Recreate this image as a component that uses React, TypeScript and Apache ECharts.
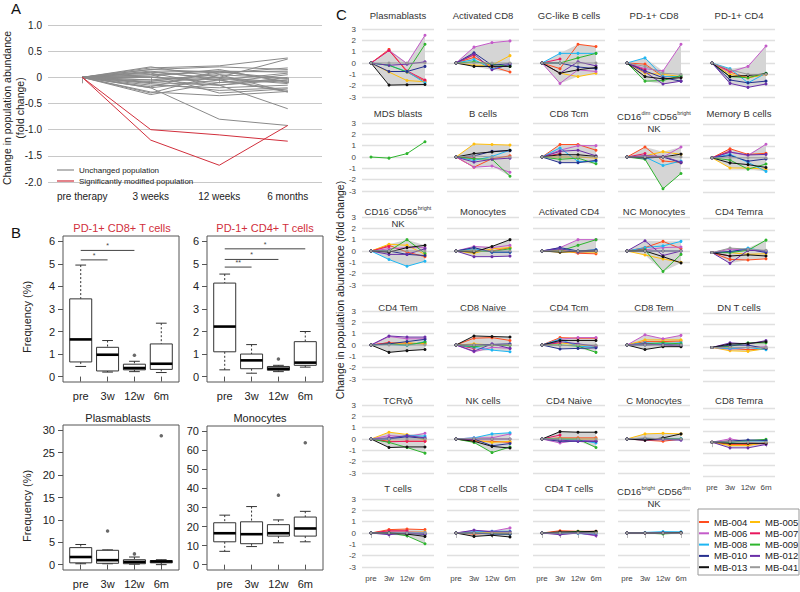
import React, { useEffect, useRef } from "react";
import * as echarts from "echarts";

// ---------- Panel A data ----------
const A_TIMES = ["pre therapy", "3 weeks", "12 weeks", "6 months"];
// values at 3 weeks, 12 weeks, 6 months (pre therapy = 0)
const aUnchanged = [
  [0.2, 0.0, 0.35],
  [0.18, 0.22, 0.37],
  [0.15, 0.2, 0.15],
  [0.1, 0.12, 0.1],
  [0.12, -0.05, 0.08],
  [0.05, 0.1, 0.12],
  [0.0, -0.1, 0.05],
  [-0.05, 0.05, -0.02],
  [0.08, -0.15, -0.05],
  [-0.1, 0.0, -0.1],
  [-0.15, -0.2, -0.15],
  [-0.2, -0.05, -0.25],
  [-0.3, 0.05, -0.28],
  [-0.33, -0.1, -0.05],
  [-0.28, -0.35, -0.27],
  [-0.12, -0.25, -0.2],
  [0.02, 0.15, -0.1],
  [-0.05, -0.15, 0.0],
  [0.1, -0.02, -0.12],
  [-0.18, 0.12, -0.08],
  [0.05, -0.3, -0.22],
  [-0.2, -0.8, -0.92],
  [-0.1, -0.15, -0.6],
  [0.15, 0.1, -0.02],
  [-0.08, 0.08, 0.18],
  [0.0, -0.05, -0.28],
];
const aModified = [
  [-1.0, -1.1, -1.22],
  [-1.2, -1.68, -0.92],
];

// ---------- Panel B data ----------
const B_TIMES = ["pre", "3w", "12w", "6m"];
// [lower whisker, Q1, median, Q3, upper whisker]
const pd1Cd8Box = [
  [0.45, 0.65, 1.65, 3.45, 4.95],
  [0.2, 0.25, 0.97, 1.3, 1.6],
  [0.22, 0.3, 0.38, 0.55, 0.68],
  [0.18, 0.32, 0.57, 1.45, 2.37],
];
const pd1Cd8Outliers = [[3, 0.95]];
const pd1Cd8Sig = [
  [1, 2, 5.18, "*"],
  [1, 3, 5.6, "*"],
];
const pd1Cd4Box = [
  [0.3, 1.1, 2.22, 4.15, 4.55],
  [0.15, 0.35, 0.72, 1.0, 1.42],
  [0.22, 0.28, 0.35, 0.45, 0.5],
  [0.42, 0.5, 0.62, 1.55, 2.0],
];
const pd1Cd4Outliers = [[3, 0.78]];
const pd1Cd4Sig = [
  [1, 2, 4.86, "**"],
  [1, 3, 5.2, "*"],
  [1, 4, 5.67, "*"],
];
const plasmaBox = [
  [0.2, 0.4, 1.7, 3.8, 4.5],
  [0.2, 0.3, 1.0, 3.2, 3.3],
  [0.1, 0.2, 0.6, 1.1, 1.7],
  [0.0, 0.4, 0.7, 0.9, 1.1],
];
const plasmaOutliers = [
  [2, 7.5],
  [3, 2.4],
  [4, 28.8],
];
const monoBox = [
  [7, 12, 16.5, 22, 26],
  [9.5, 11, 16, 22.5, 30.5],
  [11.5, 15, 16.5, 21, 23.5],
  [12, 15, 19, 25, 28],
];
const monoOutliers = [
  [3, 36.5],
  [4, 64],
];

// ---------- Panel C data ----------
const C_TIMES = ["pre", "3w", "12w", "6m"];
const PATIENTS = ["MB-004", "MB-005", "MB-006", "MB-007", "MB-008", "MB-009", "MB-010", "MB-012", "MB-013", "MB-041"];
// each row: patient (PATIENTS order), values at 3w, 12w, 6m (pre = 0)
const plasmablasts = [
  [1.2, -0.8, -1.6], [-0.8, -1.55, -1.65], [1.1, -0.05, 2.45], [1.1, -0.7, -1.5], [-0.2, -0.75, -1.75],
  [-0.2, -0.8, 1.65], [-0.75, -0.75, -0.3], [-0.2, -0.1, 0.1], [-1.95, -1.92, -1.9], [0, 0, 0],
];
const activatedCD8 = [
  [0.5, -0.3, -0.8], [-0.2, -0.2, 0.65], [1.4, 1.8, 1.95], [0.7, null, null], [0.3, -0.5, -0.2],
  [0.1, -0.1, -0.3], [0.9, -0.2, -0.05], [0.8, -0.6, -0.1], [-0.3, -0.3, -0.3], [0, 0, 0],
];
const gcLikeBCells = [
  [-0.5, 1.65, 1.45], [-0.9, -1.2, -0.9], [-1.8, -0.6, -0.75], [0.35, null, null], [0.85, 0.85, 0.85],
  [0.0, 0.45, 0.85], [0.0, -0.35, -0.5], [-0.9, 0.1, -0.25], [-0.9, -0.6, -0.4], [0, 0, 0],
];
const pd1CD8 = [
  [-0.1, -1.2, -1.25], [-0.9, -1.0, -1.2], [-0.5, -0.7, 1.65], [-0.6, null, null], [0.45, -1.2, -1.2],
  [-1.6, -1.55, -1.1], [-0.7, -1.3, -1.6], [-0.8, -1.85, -1.6], [-1.2, -1.4, -1.3], [-0.3, -0.9, -1.0],
];
const pd1CD4 = [
  [-0.8, -1.3, -1.0], [-1.0, -1.3, -1.0], [-0.8, -0.3, 1.5], [-0.7, null, null], [-0.5, -1.75, -0.9],
  [-1.2, -1.3, -0.9], [-1.5, -1.75, -1.6], [-1.8, -2.15, -1.85], [-1.2, -1.1, -0.95], [-0.6, -1.0, -1.0],
];
const mdsBlasts = [
  null, null, null, null, null, [-0.1, 0.3, 1.35], null, null, null, null,
];
const bCells = [
  [-0.9, -0.15, 0.1], [1.15, 1.1, 1.05], [-0.9, -0.8, -1.35], [-0.1, null, null], [-0.3, 0.05, 0.6],
  [-0.15, -0.2, -1.7], [0.1, 0.5, 0.55], [-0.45, -0.2, -0.1], [0.3, 0.45, 0.6], [0.1, 0.0, 0.0],
];
const cd8Tcm = [
  [1.1, 1.1, 0.6], [0, 0, -0.1], [0.6, 1.0, 1.0], [0.3, null, null], [0.8, -0.4, -0.4],
  [-0.2, -0.1, -0.6], [-0.5, -0.5, -0.3], [0.5, 0.6, 0.1], [0.2, 0.2, 0.05], [0, 0, 0],
];
const nkDimBright = [
  [0.88, -0.35, -0.5], [0.1, 0.47, 0.23], [0.1, 0.0, 0.88], [0.3, null, null], [0.0, -0.75, -0.35],
  [-0.2, -2.8, -1.45], [-0.1, 0.0, -0.5], [0.1, 0.05, -0.45], [-0.05, 0.0, 0.25], [0, 0, 0],
];
const memoryBCells = [
  [0.8, 0.3, 0.4], [-0.9, -0.9, -1.0], [0.5, 0.2, 1.2], [0.6, null, null], [0.3, -0.4, -1.2],
  [-0.2, -1.0, -0.55], [0.2, -0.3, -0.1], [0.5, 0.25, 0.3], [-0.45, -0.6, -0.85], [0, 0, 0],
];
const nkNegBright = [
  [0.5, -0.1, -0.5], [0.6, 0.5, -0.3], [0.2, 0.3, 0.3], [0.4, null, null], [-0.75, -1.35, -0.9],
  [0.0, 1.0, -0.2], [0.0, -0.3, -0.4], [-0.3, -0.3, 0.2], [-0.1, 0.3, 0.5], [0, 0, 0],
];
const monocytes = [
  [0.2, 0.0, 0.3], [-0.2, 0.2, 0.3], [0.4, 0.3, 0.5], [0.0, null, null], [0.2, -0.1, -0.1],
  [0.0, -0.05, 0.2], [0.3, -0.1, -0.1], [-0.5, -0.5, -0.45], [-0.1, 0.4, 1.0], [0, 0, 0],
];
const activatedCD4 = [
  [0.1, -0.2, -0.25], [-0.1, -0.1, -0.1], [0.3, 1.0, 1.0], [0.1, null, null], [0.2, 0.0, 0.1],
  [0.0, 0.5, 1.0], [0.3, 0.0, 0.1], [0.2, -0.1, 0.0], [-0.1, 0.0, 0.0], [0, 0, 0],
];
const ncMonocytes = [
  [0.3, 0.85, 0.2], [-0.35, -0.7, -1.0], [0.1, 0.3, 0.35], [0.2, null, null], [0.3, 0.45, 0.85],
  [0.1, -1.8, -0.3], [0.0, 0.0, 0.0], [0.9, -0.4, 0.0], [0.0, -0.5, -1.05], [0, 0, 0],
];
const cd4Temra = [
  [-0.6, -0.65, -0.55], [0.0, -0.15, -0.1], [0.3, 0.25, 0.1], [-0.3, null, null], [0.0, 0.4, 0.1],
  [0.0, 0.2, 1.1], [0.1, 0.3, 0.0], [-0.95, 0.2, 0.15], [-0.3, -0.2, -0.3], [0.4, 0.3, 0.2],
];
const cd4Tem = [
  [0.2, 0.15, 0.1], [0.1, 0.2, 0.1], [0.75, 0.55, 0.55], [0.2, null, null], [0.05, -0.05, 0.3],
  [0.1, 0.0, 0.25], [0.1, 0.3, 0.5], [0.8, 0.7, 0.7], [-0.65, -0.5, -0.4], [0, 0, 0],
];
const cd8Naive = [
  [0.6, 0.65, 0.4], [0.1, 0.0, 0.0], [-0.6, -0.2, -0.3], [-0.3, null, null], [-0.2, -0.45, -0.6],
  [-0.15, 0.0, -0.05], [0.0, 0.05, 0.1], [-0.55, 0.1, -0.3], [0.8, 0.75, 0.7], [0, 0, 0],
];
const cd4Tcm = [
  [0.65, 0.6, 0.6], [0.2, 0.0, -0.1], [0.5, 0.65, 0.65], [0.2, null, null], [0.5, -0.1, -0.2],
  [0.0, -0.1, -0.65], [-0.35, -0.3, -0.25], [0.3, 0.1, -0.1], [0.4, 0.4, 0.4], [-0.05, 0, 0],
];
const cd8Tem = [
  [0.3, 0.3, 0.35], [0.45, 0.45, 0.45], [0.9, 0.55, 0.85], [0.15, null, null], [0.2, 0.1, 0.2],
  [0.1, 0.2, 0.1], [0.0, 0.05, 0.0], [0.1, 0.0, -0.1], [-0.4, -0.15, -0.15], [0, 0, 0],
];
const dnTCells = [
  [-0.1, -0.2, -0.15], [-0.3, -0.35, -0.1], [-0.15, 0.0, 0.05], [0.1, null, null], [-0.1, 0.0, -0.2],
  [0.1, 0.4, 0.4], [0.2, 0.2, -0.1], [0.4, 0.3, 0.6], [0.3, 0.35, 0.5], [0, 0, 0],
];
const tcrgd = [
  [-0.2, -0.2, -0.2], [0.6, 0.4, -0.1], [0.3, 0.2, 0.5], [-0.25, -0.2, -0.2], [0.0, 0.3, 0.25],
  [-0.3, -0.75, -1.25], [0.0, 0.2, 0.05], [0.1, 0.3, 0.1], [-0.75, -0.7, -0.7], [0, 0, 0],
];
const nkCells = [
  [-0.2, -0.2, -0.3], [-0.1, -0.3, -0.2], [0.1, 0.1, 0.45], [-0.1, null, null], [0.1, 0.45, 0.55],
  [-0.3, -1.2, -0.7], [0.0, -0.6, -0.4], [0.0, 0.0, 0.0], [-0.2, -0.65, -0.8], [0.05, 0, 0],
];
const cd4Naive = [
  [0.1, 0.1, 0.1], [0.05, 0.0, 0.0], [-0.35, -0.1, -0.2], [0.35, null, null], [0.0, -0.1, -0.35],
  [0.0, 0.0, -0.75], [-0.2, -0.2, -0.2], [-0.1, -0.2, -0.2], [0.65, 0.6, 0.6], [0, 0, 0],
];
const cMonocytes = [
  [-0.1, -0.2, 0.0], [0.45, 0.5, 0.45], [0.05, 0.0, 0.0], [0.0, null, null], [0.0, 0.05, 0.05],
  [0.0, 0.05, 0.0], [0.0, 0.0, -0.05], [-0.1, -0.05, -0.1], [-0.1, 0.1, 0.45], [0.1, 0, 0],
];
const cd8Temra = [
  [-0.2, -0.2, -0.1], [-0.3, -0.3, 0.0], [0.3, 0.0, -0.2], [0.1, null, null], [0.0, 0.1, 0.1],
  [0.0, 0.15, 0.25], [0.1, 0.2, 0.15], [-0.5, -0.5, -0.2], [-0.1, -0.1, -0.1], [0.05, 0, 0],
];
const tCells = [
  [0.3, 0.35, 0.3], [0.1, 0.1, 0.1], [0.1, 0.1, 0.05], [0.2, 0.2, null], [0.0, 0.0, 0.0],
  [0.0, -0.25, -0.95], [0.0, -0.05, -0.1], [-0.15, 0.0, -0.1], [0.0, -0.1, -0.3], [0, 0, 0],
];
const cd8TCells = [
  [-0.1, 0.0, -0.05], [0.0, 0.05, 0.1], [0.2, 0.15, 0.45], [0.05, null, null], [0.1, 0.15, 0.15],
  [0.0, -0.05, -0.1], [0.0, -0.1, -0.1], [0.25, 0.1, 0.1], [-0.3, -0.2, -0.35], [0, 0, 0],
];
const cd4TCells = [
  [0.2, 0.15, 0.15], [0.05, 0.05, 0.05], [-0.05, 0.0, -0.25], [0.05, null, null], [0.0, -0.05, -0.1],
  [0.0, 0.15, 0.1], [0.0, 0.05, 0.0], [-0.15, 0.0, -0.2], [0.1, 0.1, 0.15], [0, 0, 0],
];
const nkBrightDim = [
  [0.0, 0.0, 0.0], [0.0, 0.0, 0.0], [0.02, 0.02, 0.02], [0.0, null, null], [0.05, 0.12, 0.1],
  [0.0, -0.08, 0.0], [0.0, 0.02, 0.02], [0.0, 0.0, 0.0], [0.0, 0.0, 0.05], [0, 0, 0],
];

// panel titles (rich-text markup for superscripts), in reading order
const C_TITLES = [
  "Plasmablasts", "Activated CD8", "GC-like B cells", "PD-1+ CD8", "PD-1+ CD4",
  "MDS blasts", "B cells", "CD8 Tcm", "{n|CD16}{s|dim}{n| CD56}{s|bright}\n{n|NK}", "Memory B cells",
  "{n|CD16}{s|-}{n| CD56}{s|bright}\n{n|NK}", "Monocytes", "Activated CD4", "NC Monocytes", "CD4 Temra",
  "CD4 Tem", "CD8 Naive", "CD4 Tcm", "CD8 Tem", "DN T cells",
  "TCRγδ", "NK cells", "CD4 Naive", "C Monocytes", "CD8 Temra",
  "T cells", "CD8 T cells", "CD4 T cells", "{n|CD16}{s|bright}{n| CD56}{s|dim}\n{n|NK}",
];
const C_DATA = [
  plasmablasts, activatedCD8, gcLikeBCells, pd1CD8, pd1CD4,
  mdsBlasts, bCells, cd8Tcm, nkDimBright, memoryBCells,
  nkNegBright, monocytes, activatedCD4, ncMonocytes, cd4Temra,
  cd4Tem, cd8Naive, cd4Tcm, cd8Tem, dnTCells,
  tcrgd, nkCells, cd4Naive, cMonocytes, cd8Temra,
  tCells, cd8TCells, cd4TCells, nkBrightDim,
];

// ---------- styles / layout ----------
const FONT = "Liberation Sans, Arial, Helvetica, sans-serif";
const PATIENT_COLORS = ["#FF4D1F", "#FFBE0B", "#C45BC9", "#E8175D", "#1EB6F2", "#2EB52E", "#26308F", "#6A2FA8", "#111111", "#9A9A9A"];
const C_COL_LEFT = [362, 447, 533, 618, 703];
const C_ROW_TOP = [29, 123, 217, 311, 405, 499];
const C_TITLE_Y = [15, 113, 211, 307, 400, 488];
const C_W = 72;
const C_H = 68;

function boxRender(params: any, api: any) {
  const x = api.value(0);
  const lo = api.value(1), q1 = api.value(2), med = api.value(3), q3 = api.value(4), hi = api.value(5);
  const c = (xx: number, yy: number) => api.coord([xx, yy]);
  const hw = 0.41, cw = 0.2;
  const stroke = "#333";
  const ln = (a: number[], b: number[], extra: any = {}) => ({
    type: "line",
    shape: { x1: a[0], y1: a[1], x2: b[0], y2: b[1] },
    style: { stroke, lineWidth: 1, ...extra },
  });
  const tl = c(x - hw, q3), br = c(x + hw, q1);
  return {
    type: "group",
    children: [
      ln(c(x, hi), c(x, q3), { lineDash: [2, 2] }),
      ln(c(x, q1), c(x, lo), { lineDash: [2, 2] }),
      ln(c(x - cw, hi), c(x + cw, hi)),
      ln(c(x - cw, lo), c(x + cw, lo)),
      {
        type: "rect",
        shape: { x: tl[0], y: tl[1], width: br[0] - tl[0], height: Math.max(br[1] - tl[1], 0.5) },
        style: { fill: "#fff", stroke, lineWidth: 1 },
      },
      ln(c(x - hw, med), c(x + hw, med), { lineWidth: 2.6, stroke: "#000" }),
    ],
  };
}

function sigRender(params: any, api: any) {
  const a = api.coord([api.value(0), api.value(2)]);
  const b = api.coord([api.value(1), api.value(2)]);
  return {
    type: "group",
    children: [
      { type: "line", shape: { x1: a[0], y1: a[1], x2: b[0], y2: b[1] }, style: { stroke: "#444", lineWidth: 1 } },
      {
        type: "text",
        x: (a[0] + b[0]) / 2,
        y: a[1] - 1,
        style: { text: api.value(3), fill: "#444", fontSize: 7, fontFamily: FONT, align: "center", verticalAlign: "bottom" },
      },
    ],
  };
}

function buildOption() {
  const grid: any[] = [];
  const xAxis: any[] = [];
  const yAxis: any[] = [];
  const series: any[] = [];
  const graphic: any[] = [];

  // ---------- A ----------
  grid.push({ left: 48, top: 25, width: 274, height: 157 });
  xAxis.push({
    gridIndex: 0, type: "category", data: A_TIMES, boundaryGap: true,
    axisLine: { show: false },
    axisTick: { show: true, alignWithLabel: true, interval: 0, length: 6, lineStyle: { color: "#999" } },
    axisLabel: { fontSize: 10, color: "#222", margin: 9, fontFamily: FONT, interval: 0 },
    splitLine: { show: false },
  });
  yAxis.push({
    gridIndex: 0, type: "value", min: -2, max: 1, interval: 0.5,
    axisLine: { show: false }, axisTick: { show: false },
    axisLabel: { fontSize: 10, color: "#222", fontFamily: FONT, margin: 6, formatter: (v: number) => (v === 0 ? "0" : v.toFixed(1)) },
    splitLine: { lineStyle: { color: "#c8c8c8", width: 1 } },
  });
  aUnchanged.forEach((v) =>
    series.push({
      type: "line", name: "Unchanged population", xAxisIndex: 0, yAxisIndex: 0, data: [0, ...v],
      symbol: "none", silent: true, lineStyle: { color: "#8a8a8a", width: 1 }, itemStyle: { color: "#8a8a8a" },
    })
  );
  aModified.forEach((v) =>
    series.push({
      type: "line", name: "Significantly modified population", xAxisIndex: 0, yAxisIndex: 0, data: [0, ...v],
      symbol: "none", silent: true, lineStyle: { color: "#D12F3C", width: 1 }, itemStyle: { color: "#D12F3C" },
    })
  );

  // ---------- B ----------
  const bPanels = [
    { box: pd1Cd8Box, out: pd1Cd8Outliers, sig: pd1Cd8Sig, g: { left: 63, top: 236, width: 116, height: 146 }, min: -0.24, max: 6.24, ticks: [0, 1, 2, 3, 4, 5, 6] },
    { box: pd1Cd4Box, out: pd1Cd4Outliers, sig: pd1Cd4Sig, g: { left: 207, top: 236, width: 116, height: 146 }, min: -0.24, max: 6.24, ticks: [0, 1, 2, 3, 4, 5, 6] },
    { box: plasmaBox, out: plasmaOutliers, sig: [], g: { left: 63, top: 425, width: 116, height: 145 }, min: -1.2, max: 31.2, ticks: [0, 5, 10, 15, 20, 25, 30] },
    { box: monoBox, out: monoOutliers, sig: [], g: { left: 207, top: 426, width: 116, height: 144 }, min: -2.8, max: 72.8, ticks: [0, 10, 20, 30, 40, 50, 60, 70] },
  ];
  bPanels.forEach((p) => {
    const gi = grid.length;
    grid.push({ ...p.g, show: true, borderColor: "#555", borderWidth: 1, backgroundColor: "transparent" });
    xAxis.push({
      gridIndex: gi, type: "value", min: 0.34, max: 4.66,
      axisLine: { show: false },
      axisTick: { show: true, length: 5, customValues: [1, 2, 3, 4], lineStyle: { color: "#555" } },
      axisLabel: { customValues: [1, 2, 3, 4], formatter: (v: number) => B_TIMES[Math.round(v) - 1], fontSize: 11, color: "#222", fontFamily: FONT, margin: 8 },
      splitLine: { show: false },
    });
    yAxis.push({
      gridIndex: gi, type: "value", min: p.min, max: p.max,
      axisLine: { show: false },
      axisTick: { show: true, length: 5, customValues: p.ticks, lineStyle: { color: "#555" } },
      axisLabel: { customValues: p.ticks, fontSize: 11, color: "#222", fontFamily: FONT, margin: 8 },
      splitLine: { show: false },
    });
    series.push({
      type: "custom", xAxisIndex: gi, yAxisIndex: gi, renderItem: boxRender, silent: true,
      encode: { x: 0, y: [1, 2, 3, 4, 5] },
      data: p.box.map((b, i) => [i + 1, ...b]),
    });
    series.push({
      type: "scatter", xAxisIndex: gi, yAxisIndex: gi, data: p.out, symbol: "circle", symbolSize: 3.5, silent: true,
      itemStyle: { color: "#444" },
    });
    if (p.sig.length) {
      series.push({
        type: "custom", xAxisIndex: gi, yAxisIndex: gi, renderItem: sigRender, silent: true,
        encode: { x: [0, 1], y: 2 },
        data: p.sig,
      });
    }
  });

  // ---------- C ----------
  C_DATA.forEach((rows, idx) => {
    const row = Math.floor(idx / 5);
    const col = idx % 5;
    const gi = grid.length;
    const top = C_ROW_TOP[row] + (col === 4 ? row * 0.8 : 0);
    grid.push({ left: C_COL_LEFT[col], top, width: C_W, height: C_H });
    const showX = row === 5 || (row === 4 && col === 4);
    xAxis.push({
      gridIndex: gi, type: "category", data: C_TIMES, boundaryGap: true,
      axisLine: { show: false },
      axisTick: { show: showX, alignWithLabel: true, interval: 0, length: 5, lineStyle: { color: "#bbb" } },
      axisLabel: { show: showX, interval: 0, fontSize: 8, color: "#444", fontFamily: FONT, margin: 7 },
      splitLine: { show: false },
    });
    yAxis.push({
      gridIndex: gi, type: "value", min: -3, max: 3, interval: 1,
      axisLine: { show: false }, axisTick: { show: false },
      axisLabel: { show: col === 0, fontSize: 8, color: "#444", fontFamily: FONT, margin: 6 },
      splitLine: { lineStyle: { color: "#e0e0e0", width: 1.3 } },
    });
    // envelope (min..max over patients at each time point)
    const present = rows.filter((r: any) => r);
    if (present.length > 1) {
      const lo: number[] = [];
      const span: number[] = [];
      for (let t = 0; t < 4; t++) {
        const vals = present.map((r: any) => (t === 0 ? 0 : r[t - 1])).filter((v: any) => v !== null && v !== undefined);
        const mn = Math.min(...vals), mx = Math.max(...vals);
        lo.push(mn);
        span.push(mx - mn);
      }
      series.push({
        type: "line", xAxisIndex: gi, yAxisIndex: gi, data: lo, stack: "env" + gi, stackStrategy: "all",
        symbol: "none", silent: true, lineStyle: { width: 0, opacity: 0 }, z: 1,
      });
      series.push({
        type: "line", xAxisIndex: gi, yAxisIndex: gi, data: span, stack: "env" + gi, stackStrategy: "all",
        symbol: "none", silent: true, lineStyle: { width: 0, opacity: 0 }, areaStyle: { color: "#d5d5d5", opacity: 1 }, z: 1,
      });
    }
    rows.forEach((r: any, p: number) => {
      if (!r) return;
      series.push({
        type: "line", name: PATIENTS[p], xAxisIndex: gi, yAxisIndex: gi, data: [0, ...r],
        symbol: "circle", symbolSize: 3, showAllSymbol: true, silent: true, z: 3,
        lineStyle: { color: PATIENT_COLORS[p], width: 1 }, itemStyle: { color: PATIENT_COLORS[p] },
      });
    });
    // title
    const cx = C_COL_LEFT[col] + C_W / 2;
    const title = C_TITLES[idx];
    const twoLine = title.indexOf("\n") >= 0;
    let ty = C_TITLE_Y[row];
    if (twoLine) ty = row === 1 ? 122 : row === 2 ? 217 : 497;
    graphic.push({
      type: "text", x: cx, y: ty, silent: true,
      style: {
        text: title,
        fill: "#333", fontSize: 9.5, fontFamily: FONT, align: "center", verticalAlign: "middle",
        lineHeight: 12,
        rich: twoLine
          ? {
              n: { fontSize: 9.5, fontFamily: FONT, fill: "#333", lineHeight: 12 },
              s: { fontSize: 5.5, fontFamily: FONT, fill: "#333", verticalAlign: "top", lineHeight: 7 },
            }
          : undefined,
      },
    });
  });

  // ---------- text decorations ----------
  graphic.push(
    { type: "text", x: 11, y: 1, silent: true, style: { text: "A", fontSize: 15, fontFamily: FONT, fill: "#111" } },
    { type: "text", x: 11, y: 225, silent: true, style: { text: "B", fontSize: 15, fontFamily: FONT, fill: "#111" } },
    { type: "text", x: 336, y: 7, silent: true, style: { text: "C", fontSize: 15, fontFamily: FONT, fill: "#111" } },
    {
      type: "text", x: 13, y: 108, rotation: Math.PI / 2, silent: true,
      style: { text: "Change in population abundance\n(fold change)", fontSize: 10.5, lineHeight: 13, fontFamily: FONT, fill: "#222", align: "center", verticalAlign: "middle" },
    },
    {
      type: "text", x: 27, y: 317, rotation: Math.PI / 2, silent: true,
      style: { text: "Frequency (%)", fontSize: 11, fontFamily: FONT, fill: "#222", align: "center", verticalAlign: "middle" },
    },
    {
      type: "text", x: 27, y: 506, rotation: Math.PI / 2, silent: true,
      style: { text: "Frequency (%)", fontSize: 11, fontFamily: FONT, fill: "#222", align: "center", verticalAlign: "middle" },
    },
    { type: "text", x: 122, y: 228, silent: true, style: { text: "PD-1+ CD8+ T cells", fontSize: 11, fontFamily: FONT, fill: "#D12F3C", align: "center", verticalAlign: "middle" } },
    { type: "text", x: 265, y: 228, silent: true, style: { text: "PD-1+ CD4+ T cells", fontSize: 11, fontFamily: FONT, fill: "#D12F3C", align: "center", verticalAlign: "middle" } },
    { type: "text", x: 118, y: 418, silent: true, style: { text: "Plasmablasts", fontSize: 11, fontFamily: FONT, fill: "#222", align: "center", verticalAlign: "middle" } },
    { type: "text", x: 260, y: 418, silent: true, style: { text: "Monocytes", fontSize: 11, fontFamily: FONT, fill: "#222", align: "center", verticalAlign: "middle" } },
    {
      type: "text", x: 340, y: 290, rotation: Math.PI / 2, silent: true,
      style: { text: "Change in population abundance (fold change)", fontSize: 10.5, fontFamily: FONT, fill: "#222", align: "center", verticalAlign: "middle" },
    },
    { type: "rect", silent: true, shape: { x: 698, y: 509, width: 101, height: 66 }, style: { fill: "none", stroke: "#999", lineWidth: 1 } }
  );

  const legendText = { fontSize: 9.5, fontFamily: FONT, color: "#222", lineHeight: 10 };
  return {
    animation: false,
    backgroundColor: "#fff",
    grid, xAxis, yAxis, series, graphic,
    legend: [
      {
        data: ["Unchanged population", "Significantly modified population"],
        orient: "vertical", left: 52, top: 161, icon: "rect", itemWidth: 17, itemHeight: 1.2, itemGap: 3,
        selectedMode: false, textStyle: { fontSize: 8, fontFamily: FONT, color: "#222", lineHeight: 8 },
      },
      {
        data: ["MB-004", "MB-006", "MB-008", "MB-010", "MB-013"],
        orient: "vertical", left: 699, top: 517, icon: "rect", itemWidth: 10, itemHeight: 2, itemGap: 1.3, padding: 0,
        selectedMode: false, textStyle: legendText,
      },
      {
        data: ["MB-005", "MB-007", "MB-009", "MB-012", "MB-041"],
        orient: "vertical", left: 750, top: 517, icon: "rect", itemWidth: 10, itemHeight: 2, itemGap: 1.3, padding: 0,
        selectedMode: false, textStyle: legendText,
      },
    ],
  };
}

export default function App() {
  const ref = useRef<HTMLDivElement>(null);
  useEffect(() => {
    if (!ref.current) return;
    const chart = echarts.init(ref.current, null, { renderer: "svg" });
    chart.setOption(buildOption() as any);
    return () => chart.dispose();
  }, []);
  return <div ref={ref} style={{ position: "fixed", left: 0, top: 0, width: 800, height: 592 }} />;
}
